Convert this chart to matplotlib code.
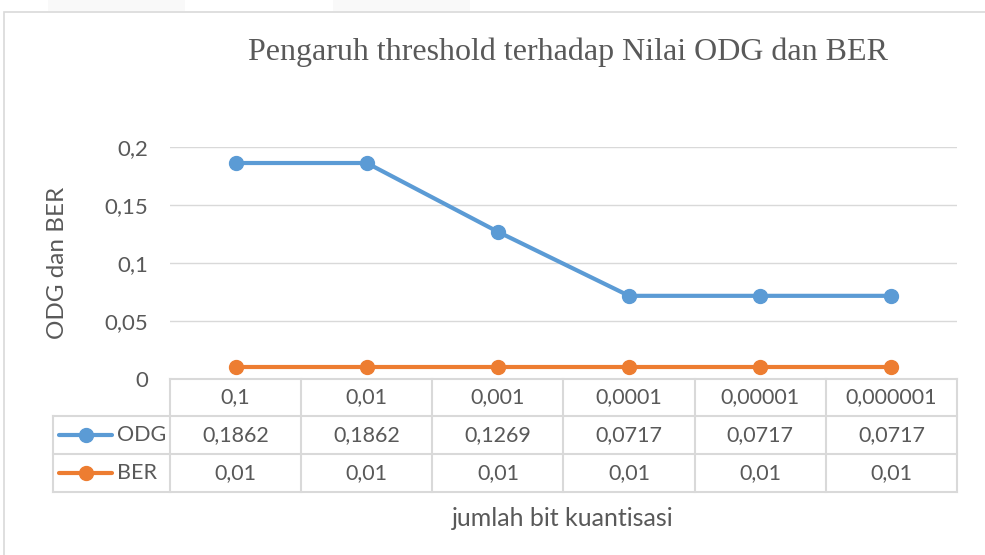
import matplotlib.pyplot as plt
import matplotlib.transforms as mtransforms
from matplotlib.lines import Line2D
from matplotlib.patches import Rectangle

# ---------------------- Data ------------------------
thresholds = ["0,1", "0,01", "0,001", "0,0001", "0,00001", "0,000001"]
odg_vals = [0.1862, 0.1862, 0.1269, 0.0717, 0.0717, 0.0717]
ber_vals = [0.01, 0.01, 0.01, 0.01, 0.01, 0.01]
y_ticks = [0, 0.05, 0.1, 0.15, 0.2]

series = [("ODG", odg_vals, "#5B9BD5"), ("BER", ber_vals, "#ED7D31")]

W, H = 985, 555
grid_c = "#D9D9D9"
text_c = "#595959"
font = "Lato"
fs_tab = 15.5


def fy(px):
    return 1 - px / H


def fx(px):
    return px / W


def fmt(v):
    s = f"{v:g}".replace(".", ",")
    return s


fig = plt.figure(figsize=(W / 100, H / 100), dpi=100)

# chart border and faint background boxes above
fig.add_artist(Rectangle((fx(4), fy(H + 10)), 1.2, fy(12) - fy(H + 10),
                         transform=fig.transFigure, fill=False,
                         edgecolor="#D9D9D9", lw=1.2))
for x0, x1 in [(48, 185), (333, 470)]:
    fig.add_artist(Rectangle((fx(x0), fy(11)), fx(x1 - x0), 11 / H,
                             transform=fig.transFigure, color="#F9F9F9", lw=0))

ax = fig.add_axes([fx(170), fy(379), fx(957 - 170), (379 - 147) / H])
x = list(range(len(thresholds)))
for name, vals, col in series:
    ax.plot(x, vals, color=col, lw=3, marker="o", markersize=10, zorder=3,
            solid_capstyle="round")

ax.set_xlim(-0.5, len(thresholds) - 0.5)
ax.set_ylim(0, 0.2)
ax.set_yticks(y_ticks)
ax.set_yticklabels([fmt(v) for v in y_ticks], fontsize=16, color=text_c,
                   family=font)
ax.tick_params(axis="y", length=0, pad=16)
ax.set_xticks([])
ax.grid(axis="y", color=grid_c, lw=1)
ax.set_axisbelow(True)
for s in ax.spines.values():
    s.set_visible(False)
ax.set_facecolor("none")

fig.text(fx(58), fy(263), "ODG dan BER", rotation=90, ha="center",
         va="center", fontsize=17.5, color=text_c, family=font)
fig.text(fx(568), fy(52), "Pengaruh threshold terhadap Nilai ODG dan BER",
         ha="center", va="center", fontsize=23, color=text_c,
         family="Liberation Serif")
fig.text(fx(563), fy(518), "jumlah bit kuantisasi", ha="center",
         va="center", fontsize=18, color=text_c, family=font)

# ---------------------- Data table ------------------------
trans = mtransforms.blended_transform_factory(ax.transData, fig.transFigure)
row_y = [379, 416, 454, 492]
n = len(thresholds)

ax_kw = dict(color=grid_c, lw=1.5, clip_on=False)
# horizontal lines
fig.add_artist(Line2D([-0.5, n - 0.5], [fy(row_y[0])] * 2, transform=trans,
                      **ax_kw))
for yy in row_y[1:]:
    fig.add_artist(Line2D([fx(53), fx(957)], [fy(yy)] * 2,
                          transform=fig.transFigure, **ax_kw))
# vertical lines
for i in range(n + 1):
    fig.add_artist(Line2D([i - 0.5] * 2, [fy(row_y[0]), fy(row_y[-1])],
                          transform=trans, **ax_kw))
fig.add_artist(Line2D([fx(53)] * 2, [fy(row_y[1]), fy(row_y[-1])],
                      transform=fig.transFigure, **ax_kw))

for i, lab in enumerate(thresholds):
    fig.text(i, fy(397), lab, transform=trans, ha="center", va="center",
             fontsize=fs_tab, color=text_c, family=font)

for r, (name, vals, col) in enumerate(series):
    yc = fy((row_y[r + 1] + row_y[r + 2]) / 2)
    fig.add_artist(Line2D([fx(59), fx(112)], [yc, yc], color=col, lw=3,
                          transform=fig.transFigure, solid_capstyle="round"))
    fig.add_artist(Line2D([fx(86)], [yc], color=col, marker="o",
                          markersize=10, transform=fig.transFigure))
    fig.text(fx(117), yc, name, ha="left", va="center", fontsize=fs_tab,
             color=text_c, family=font)
    for i, v in enumerate(vals):
        fig.text(i, yc, fmt(v), transform=trans, ha="center", va="center",
                 fontsize=fs_tab, color=text_c, family=font)

fig.savefig("out.png", dpi=100)
